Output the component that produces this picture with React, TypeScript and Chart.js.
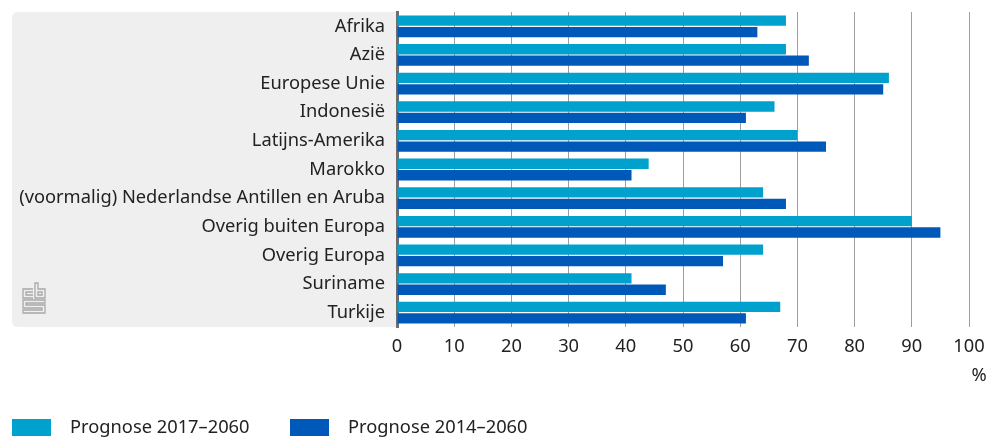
import React, { useEffect, useRef } from "react";
import { Chart, registerables } from "chart.js";

Chart.register(...registerables);

const categories = [
  "Afrika",
  "Azië",
  "Europese Unie",
  "Indonesië",
  "Latijns-Amerika",
  "Marokko",
  "(voormalig) Nederlandse Antillen en Aruba",
  "Overig buiten Europa",
  "Overig Europa",
  "Suriname",
  "Turkije",
];
const seriesLabels = ["Prognose 2017–2060", "Prognose 2014–2060"];
const prognose2017 = [68, 68, 86, 66, 70, 44, 64, 90, 64, 41, 67];
const prognose2014 = [63, 72, 85, 61, 75, 41, 68, 95, 57, 47, 61];
const seriesColors = ["#00a1cd", "#0058b8"];
const FONT = "'Noto Sans', sans-serif";
const FS = 18.3;

const bgPlugin = {
  id: "bgBox",
  beforeDraw(chart: any) {
    const ctx = chart.ctx;
    const a = chart.chartArea;
    const x0 = 12, y0 = a.top, x1 = a.left, y1 = a.bottom, r = 6;
    ctx.save();
    ctx.fillStyle = "#efefef";
    ctx.beginPath();
    ctx.moveTo(x0 + r, y0);
    ctx.lineTo(x1, y0);
    ctx.lineTo(x1, y1);
    ctx.lineTo(x0 + r, y1);
    ctx.quadraticCurveTo(x0, y1, x0, y1 - r);
    ctx.lineTo(x0, y0 + r);
    ctx.quadraticCurveTo(x0, y0, x0 + r, y0);
    ctx.closePath();
    ctx.fill();
    // CBS logo
    const lx = 23, ly = a.bottom - 44;
    ctx.strokeStyle = "#a8a8a8";
    ctx.lineWidth = 1.3;
    const path = (pts: number[][], close = false) => {
      ctx.beginPath();
      pts.forEach((p, i) => (i === 0 ? ctx.moveTo(lx + p[0], ly + p[1]) : ctx.lineTo(lx + p[0], ly + p[1])));
      if (close) ctx.closePath();
      ctx.stroke();
    };
    path([[10, 6], [0, 6], [0, 15], [10, 15]]);
    path([[10, 9], [3, 9], [3, 12], [10, 12]]);
    path([[12, 0], [15, 0], [15, 6], [22, 6], [22, 15], [12, 15]], true);
    path([[15, 9], [19, 9], [19, 12], [15, 12]], true);
    path([[0, 17], [22, 17], [22, 20], [3, 20], [3, 22], [22, 22], [22, 30], [0, 30], [0, 27], [19, 27], [19, 25], [0, 25]], true);
    ctx.restore();
  },
  afterDraw(chart: any) {
    const ctx = chart.ctx;
    const xs = chart.scales.x;
    ctx.save();
    ctx.font = `${FS}px ${FONT}`;
    ctx.fillStyle = "#222";
    ctx.textBaseline = "middle";
    ctx.textAlign = "center";
    ctx.fillText("%", xs.getPixelForValue(100) + 10, 376);
    // legend
    ctx.textAlign = "left";
    const items = [
      { x: 12, tx: 70 },
      { x: 290, tx: 348 },
    ];
    items.forEach((it, i) => {
      ctx.fillStyle = seriesColors[i];
      ctx.fillRect(it.x, 419, 39, 17);
      ctx.fillStyle = "#222";
      ctx.fillText(seriesLabels[i], it.tx, 428);
    });
    ctx.restore();
  },
};

export default function App() {
  const ref = useRef<HTMLCanvasElement>(null);
  useEffect(() => {
    document.body.style.margin = "0";
    const chart = new Chart(ref.current!, {
      type: "bar",
      data: {
        labels: categories,
        datasets: [
          { label: seriesLabels[0], data: prognose2017, backgroundColor: seriesColors[0] },
          { label: seriesLabels[1], data: prognose2014, backgroundColor: seriesColors[1] },
        ],
      },
      options: {
        indexAxis: "y",
        animation: false,
        responsive: false,
        maintainAspectRatio: false,
        categoryPercentage: 0.8,
        barPercentage: 0.9,
        layout: { padding: { left: 0, right: 25, top: 12, bottom: 0 } },
        plugins: { legend: { display: false }, tooltip: { enabled: false } },
        scales: {
          x: {
            min: 0,
            max: 100,
            afterFit: (s: any) => {
              s.height = 110;
              s.paddingLeft = 0;
              s.paddingRight = 0;
            },
            ticks: { stepSize: 10, font: { size: FS, family: FONT }, color: "#222", padding: 9 },
            grid: { color: "#9e9e9e", drawTicks: false, lineWidth: 1 },
            border: { display: false },
          },
          y: {
            afterFit: (s: any) => {
              s.width = 397;
              s.paddingTop = 0;
              s.paddingBottom = 0;
            },
            ticks: { font: { size: FS, family: FONT }, color: "#222", padding: 12 },
            grid: { display: false, drawTicks: false },
            border: { display: true, color: "#6e6e6e", width: 3 },
          },
        },
      },
      plugins: [bgPlugin],
    } as any);
    return () => chart.destroy();
  }, []);
  return (
    <div style={{ width: 994, height: 437 }}>
      <canvas ref={ref} width={994} height={437} style={{ display: "block" }} />
    </div>
  );
}
